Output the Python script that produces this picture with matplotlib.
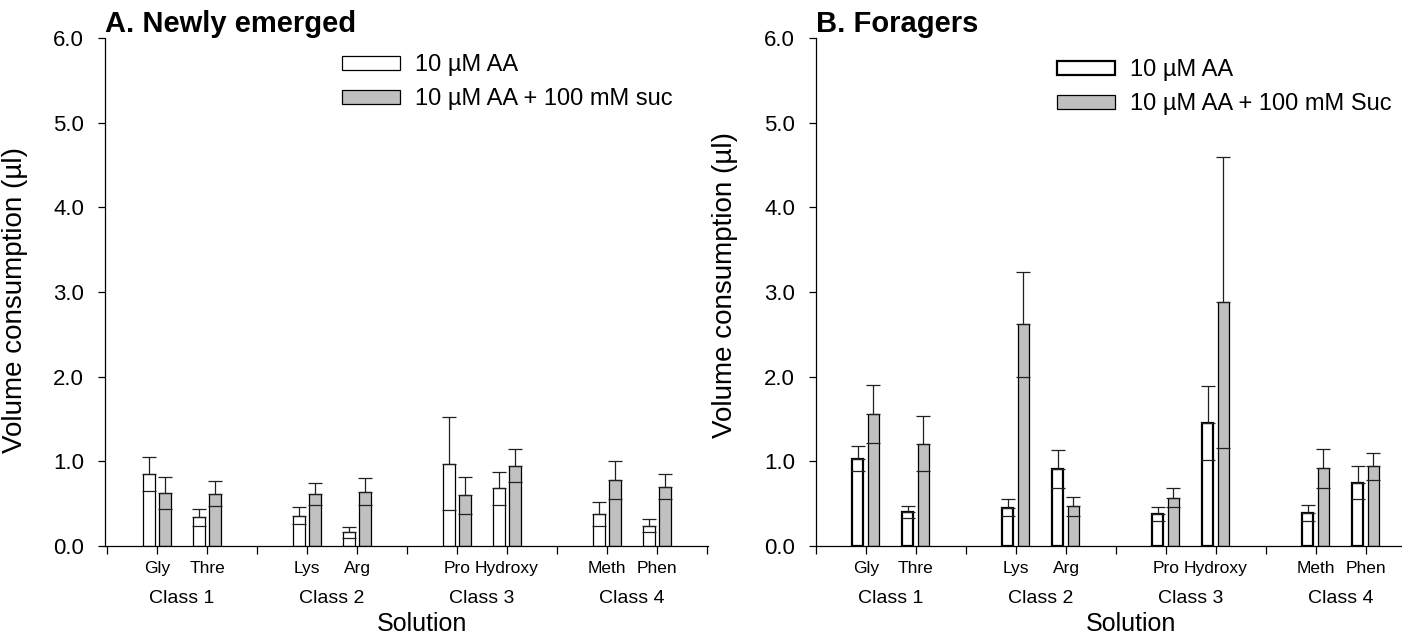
import numpy as np
import matplotlib
matplotlib.use('Agg')
import matplotlib.pyplot as plt
import matplotlib.transforms as mtransforms

plt.rcParams['font.family'] = ['Liberation Sans', 'DejaVu Sans']

# data
amino_acids = ['Gly', 'Thre', 'Lys', 'Arg', 'Pro', 'Hydroxy', 'Meth', 'Phen']
class_names = ['Class 1', 'Class 2', 'Class 3', 'Class 4']
y_ticks = [0, 1, 2, 3, 4, 5, 6]

newly_aa = [0.85, 0.34, 0.36, 0.16, 0.97, 0.68, 0.38, 0.24]
newly_aa_err = [0.20, 0.10, 0.10, 0.07, 0.55, 0.19, 0.14, 0.08]
newly_suc = [0.63, 0.62, 0.61, 0.64, 0.60, 0.95, 0.78, 0.70]
newly_suc_err = [0.19, 0.15, 0.13, 0.16, 0.22, 0.19, 0.22, 0.15]

forager_aa = [1.03, 0.40, 0.45, 0.91, 0.38, 1.45, 0.39, 0.75]
forager_aa_err = [0.15, 0.07, 0.10, 0.22, 0.08, 0.44, 0.10, 0.20]
forager_suc = [1.56, 1.21, 2.62, 0.47, 0.57, 2.88, 0.92, 0.94]
forager_suc_err = [0.34, 0.33, 0.62, 0.11, 0.11, 1.72, 0.23, 0.16]

GRAY = '#c0c0c0'
W, H = 1402, 640


def draw_panel(ax, title, aa, aa_err, suc, suc_err, suc_label, edge_lw, offsets, width,
               legend_xy, ylabel_xy):
    # two bars per amino acid, groups of two separated by an empty slot
    pos = np.array([3 * (i // 2) + i % 2 + 1 for i in range(len(amino_acids))])
    aa = np.array(aa)
    suc = np.array(suc)
    aa_err = np.array(aa_err)
    suc_err = np.array(suc_err)

    for x, vals, errs, face, lw, lab in [
        (pos + offsets[0], aa, aa_err, 'white', edge_lw, '10 \u00b5M AA'),
        (pos + offsets[1], suc, suc_err, GRAY, 0.9, suc_label),
    ]:
        ax.bar(x, vals, width, color=face, edgecolor='black', linewidth=lw, zorder=2, label=lab)
        # upper error bar only goes above the bar, lower cap sits inside
        ax.errorbar(x, vals, yerr=[np.zeros_like(errs), errs], fmt='none', ecolor='#202020',
                    elinewidth=0.9, capsize=5, capthick=0.9, zorder=3)
        ax.plot(x, vals - errs, linestyle='none', marker='_', markersize=10,
                markeredgewidth=0.9, color='#202020', zorder=3)

    ax.set_ylim(0, 6)
    ax.set_yticks(y_ticks)
    ax.set_yticklabels(['%.1f' % t for t in y_ticks], fontsize=16)
    ticks = list(range(13))
    labels = [''] * 13
    for p, name in zip(pos, amino_acids):
        labels[p] = name
    ax.set_xticks(ticks)
    ax.set_xticklabels(labels, fontsize=12.5)
    ax.tick_params(axis='x', length=6, width=0.9, pad=5)
    ax.tick_params(axis='y', length=5, width=0.9, pad=10)
    for s in ['top', 'right']:
        ax.spines[s].set_visible(False)
    for s in ['left', 'bottom']:
        ax.spines[s].set_linewidth(0.9)

    trans = mtransforms.blended_transform_factory(ax.transData, ax.transAxes)
    for i, cname in enumerate(class_names):
        ax.text(pos[2 * i] + 0.5, -0.104, cname, transform=trans, ha='center', va='center', fontsize=14)
    ax.text(6.3, -0.154, 'Solution', transform=trans, ha='center', va='center', fontsize=18)

    ax.set_ylabel('Volume consumption (\u00b5l)', fontsize=20)
    ax.yaxis.set_label_coords(*ylabel_xy)
    ax.set_title(title, loc='left', fontsize=21, fontweight='bold', pad=1)

    ax.legend(loc='upper left', bbox_to_anchor=(legend_xy[0] / W, 1 - legend_xy[1] / H),
              bbox_transform=ax.figure.transFigure, frameon=False, fontsize=17,
              handlelength=2.45, handleheight=0.55, handletextpad=0.64, labelspacing=0.52,
              borderpad=0, borderaxespad=0)


fig = plt.figure(figsize=(W / 100, H / 100), dpi=100)
# axes placed in pixel units of the reference; one x unit is 50 px
ax1 = fig.add_axes([105 / W, 1 - 546 / H, 603 / W, 508 / H])
ax1.set_xlim(-0.04, 12.02)
ax2 = fig.add_axes([816 / W, 1 - 546 / H, 601 / W, 508 / H])
ax2.set_xlim(0, 12.02)

draw_panel(ax1, 'A. Newly emerged', newly_aa, newly_aa_err, newly_suc, newly_suc_err,
           '10 \u00b5M AA + 100 mM suc', 0.9, (-0.155, 0.155), 0.235, (342, 54), (-0.128, 0.484))
draw_panel(ax2, 'B. Foragers', forager_aa, forager_aa_err, forager_suc, forager_suc_err,
           '10 \u00b5M AA + 100 mM Suc', 1.6, (-0.165, 0.14), 0.22, (1057, 59), (-0.13, 0.514))

fig.savefig('out.png', dpi=100)
